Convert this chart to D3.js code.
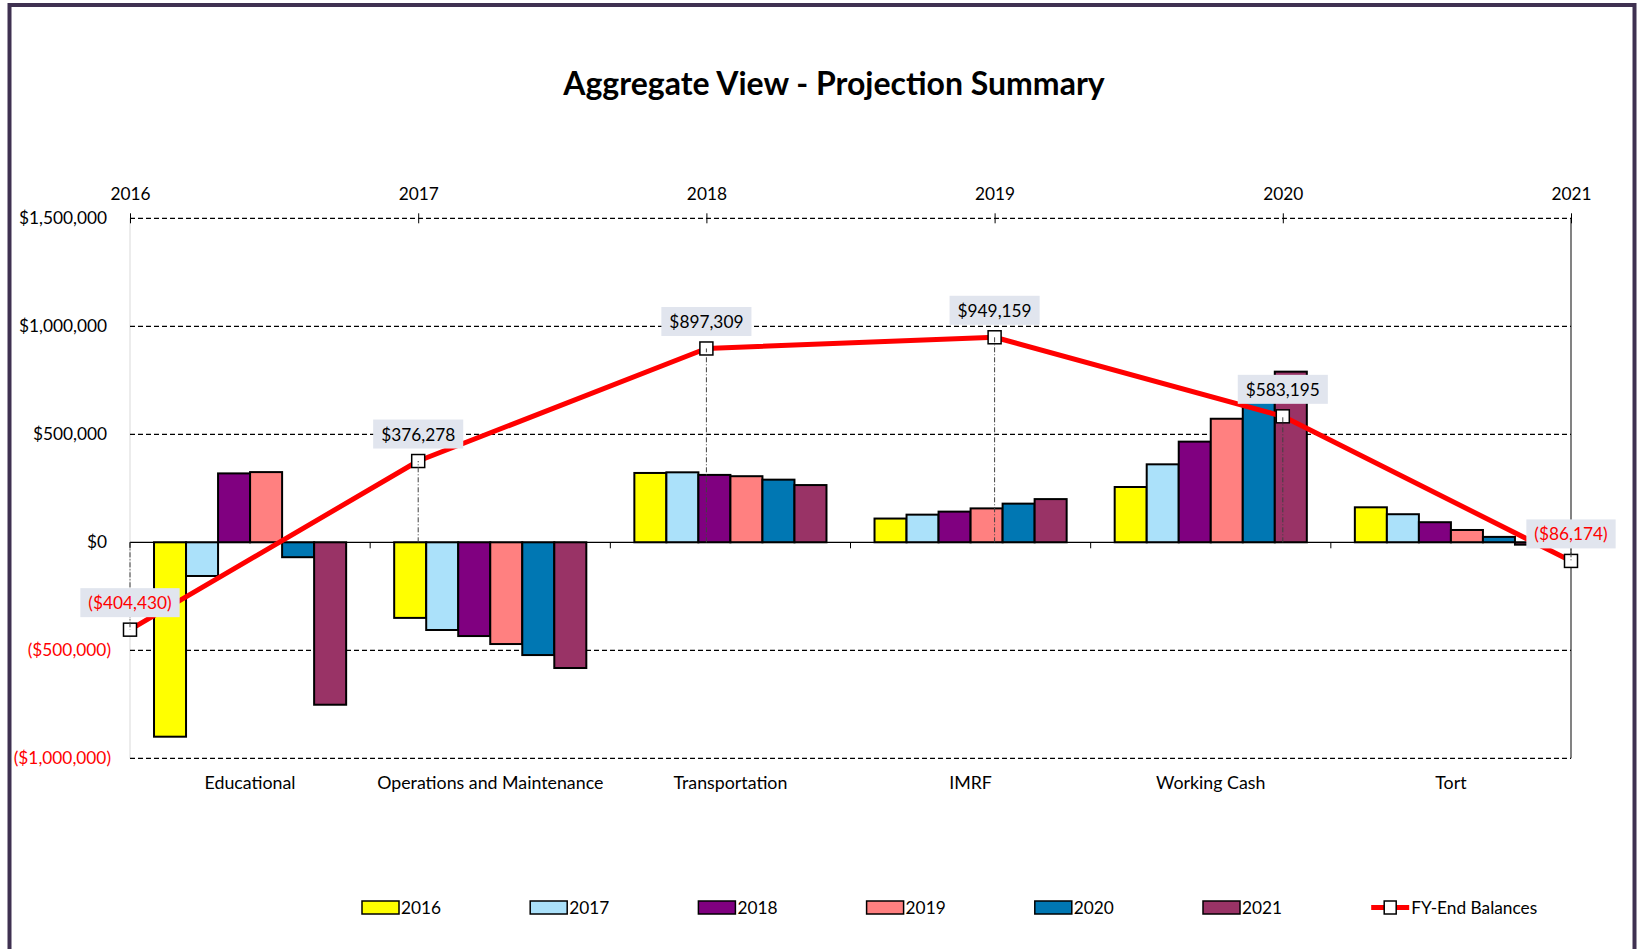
<!DOCTYPE html>
<html>
<head>
<meta charset="utf-8">
<script src="https://cdn.jsdelivr.net/npm/d3@7"></script>
<style>
  html, body { margin: 0; padding: 0; background: #fff; }
  svg { display: block; font-family: Lato, "Open Sans", sans-serif; }
</style>
</head>
<body>
<svg id="chart" width="1640" height="949"></svg>
<script>
// Data
const categories = ['Educational', 'Operations and Maintenance', 'Transportation', 'IMRF', 'Working Cash', 'Tort'];
const seriesNames = ['2016', '2017', '2018', '2019', '2020', '2021'];
const v2016 = [-900000, -350000, 321000, 110000, 256000, 162000];
const v2017 = [-156000, -406000, 324000, 128000, 361000, 130000];
const v2018 = [319000, -434000, 312000, 142000, 466000, 93000];
const v2019 = [325000, -471000, 306000, 157000, 572000, 57000];
const v2020 = [-69000, -522000, 290000, 179000, 680000, 25000];
const v2021 = [-752000, -582000, 265000, 200000, 790000, -11000];
const seriesValues = [v2016, v2017, v2018, v2019, v2020, v2021];
const seriesColors = ['#FFFF00', '#ABE1FA', '#800080', '#FF8080', '#0077B3', '#993366'];

const balanceYears = [2016, 2017, 2018, 2019, 2020, 2021];
const balances = [-404430, 376278, 897309, 949159, 583195, -86174];

const yTicks = [1500000, 1000000, 500000, 0, -500000, -1000000];

const svg = d3.select('#chart');
const plotL = 130, plotR = 1571, plotT = 218.3, plotB = 758.3;

// Outer frame
svg.append('rect')
  .attr('x', 9.5).attr('y', 5).attr('width', 1625).attr('height', 1000)
  .attr('fill', '#fff').attr('stroke', '#3F3151').attr('stroke-width', 4);

// Title
svg.append('text')
  .attr('x', 834).attr('y', 95)
  .attr('text-anchor', 'middle')
  .attr('font-size', 32).attr('font-weight', 700).attr('fill', '#000')
  .text('Aggregate View - Projection Summary');

const y = d3.scaleLinear().domain([-1000000, 1500000]).range([plotB, plotT]);
const x0 = d3.scaleBand().domain(categories).range([plotL, plotR]).paddingInner(0.2).paddingOuter(0.1);
const x1 = d3.scaleBand().domain(seriesNames).range([0, x0.bandwidth()]).padding(0);
const xYear = d3.scaleLinear().domain([2016, 2021]).range([plotL, plotR]);

// side lines
svg.append('line').attr('x1', plotL).attr('x2', plotL).attr('y1', plotT).attr('y2', plotB)
  .attr('stroke', '#D9D9D9').attr('stroke-width', 1);
svg.append('line').attr('x1', plotR).attr('x2', plotR).attr('y1', plotT).attr('y2', plotB)
  .attr('stroke', '#404040').attr('stroke-width', 1.3);

// Gridlines (dashed)
svg.append('g').selectAll('line')
  .data(yTicks.filter(d => d !== 0))
  .join('line')
  .attr('x1', plotL).attr('x2', plotR)
  .attr('y1', d => y(d)).attr('y2', d => y(d))
  .attr('stroke', '#000').attr('stroke-width', 1.3)
  .attr('stroke-dasharray', '5,3');

// Y axis labels
const fmt = d3.format('$,');
const yAxis = d3.axisLeft(y).tickValues(yTicks).tickSize(0).tickPadding(19)
  .tickFormat(d => d < 0 ? '(' + fmt(-d) + ')' : fmt(d));
const yg = svg.append('g').attr('transform', `translate(${plotL},0)`).call(yAxis);
yg.select('.domain').remove();
yg.selectAll('text')
  .attr('font-size', 17.3).attr('font-family', 'Lato, sans-serif')
  .attr('fill', d => d < 0 ? '#FF0000' : '#000')
  .attr('dx', d => d < 0 ? 0 : -4);

// Top year axis
const xAxisTop = d3.axisTop(xYear).tickValues(balanceYears).tickFormat(d3.format('d'))
  .tickSize(5).tickPadding(13);
const xg = svg.append('g').attr('transform', `translate(0,${plotT})`).call(xAxisTop);
xg.select('.domain').remove();
xg.selectAll('.tick line').attr('y1', 5).attr('y2', -5).attr('stroke', '#000');
xg.selectAll('text').attr('font-size', 17.3).attr('font-family', 'Lato, sans-serif').attr('fill', '#000');

// Bars
const groups = svg.append('g').selectAll('g')
  .data(categories)
  .join('g')
  .attr('transform', d => `translate(${x0(d)},0)`);

groups.selectAll('rect')
  .data((c, ci) => seriesNames.map((s, si) => ({ s, v: seriesValues[si][ci], color: seriesColors[si] })))
  .join('rect')
  .attr('x', d => x1(d.s))
  .attr('width', x1.bandwidth())
  .attr('y', d => y(Math.max(0, d.v)))
  .attr('height', d => Math.abs(y(d.v) - y(0)))
  .attr('fill', d => d.color)
  .attr('stroke', '#000').attr('stroke-width', 2);

// Category axis at zero
svg.append('line').attr('x1', plotL).attr('x2', plotR).attr('y1', y(0)).attr('y2', y(0))
  .attr('stroke', '#000').attr('stroke-width', 1.3);
const step = x0.step();
svg.append('g').selectAll('line')
  .data(d3.range(categories.length + 1))
  .join('line')
  .attr('x1', i => plotL + i * step).attr('x2', i => plotL + i * step)
  .attr('y1', y(0)).attr('y2', y(0) + 6)
  .attr('stroke', '#000').attr('stroke-width', 1);

svg.append('g').selectAll('text')
  .data(categories)
  .join('text')
  .attr('x', d => x0(d) + x0.bandwidth() / 2)
  .attr('y', 789)
  .attr('text-anchor', 'middle')
  .attr('font-size', 17.8).attr('fill', '#000')
  .text(d => d);

// FY-End balances line
const pts = balanceYears.map((yr, i) => ({ yr, v: balances[i] }));
const line = d3.line().x(d => xYear(d.yr)).y(d => y(d.v));
svg.append('path')
  .datum(pts)
  .attr('d', line)
  .attr('fill', 'none').attr('stroke', '#FF0000').attr('stroke-width', 5)
  .attr('stroke-linejoin', 'round');

svg.append('g').selectAll('rect')
  .data(pts)
  .join('rect')
  .attr('x', d => xYear(d.yr) - 6.5).attr('y', d => y(d.v) - 6.5)
  .attr('width', 13).attr('height', 13)
  .attr('fill', '#fff').attr('stroke', '#000').attr('stroke-width', 1.5);

// Drop lines
svg.append('g').selectAll('line')
  .data(pts)
  .join('line')
  .attr('x1', d => xYear(d.yr)).attr('x2', d => xYear(d.yr))
  .attr('y1', y(0)).attr('y2', d => y(d.v))
  .attr('stroke', '#404040').attr('stroke-width', 1)
  .attr('stroke-dasharray', '5,2,1,2');

// Data labels
const lab = svg.append('g').selectAll('g')
  .data(pts)
  .join('g')
  .attr('transform', d => `translate(${xYear(d.yr)},${y(d.v) - 27})`);
lab.append('text')
  .attr('text-anchor', 'middle').attr('dy', '0.38em')
  .attr('font-size', 17.3)
  .attr('fill', d => d.v < 0 ? '#FF0000' : '#000')
  .text(d => d.v < 0 ? '(' + fmt(-d.v) + ')' : fmt(d.v));
lab.each(function () {
  const g = d3.select(this);
  const bb = g.select('text').node().getBBox();
  g.insert('rect', 'text')
    .attr('x', bb.x - 8).attr('y', -14.5)
    .attr('width', bb.width + 16).attr('height', 29)
    .attr('fill', '#E1E5EE');
});

// Legend
const legX = 362, legStep = 168.2, legY = 907.5;
const leg = svg.append('g');
seriesNames.forEach((s, i) => {
  const gx = legX + i * legStep;
  leg.append('rect')
    .attr('x', gx).attr('y', legY - 6.5).attr('width', 37).attr('height', 13)
    .attr('fill', seriesColors[i]).attr('stroke', '#000').attr('stroke-width', 1.5);
  leg.append('text')
    .attr('x', gx + 39).attr('y', legY).attr('dy', '0.36em')
    .attr('font-size', 17.3).attr('fill', '#000').text(s);
});
const lx = legX + 6 * legStep;
leg.append('line')
  .attr('x1', lx).attr('x2', lx + 38).attr('y1', legY).attr('y2', legY)
  .attr('stroke', '#FF0000').attr('stroke-width', 5);
leg.append('rect')
  .attr('x', lx + 13).attr('y', legY - 6.5).attr('width', 12).attr('height', 13)
  .attr('fill', '#fff').attr('stroke', '#000').attr('stroke-width', 1.5);
leg.append('text')
  .attr('x', lx + 40).attr('y', legY).attr('dy', '0.36em')
  .attr('font-size', 17.3).attr('fill', '#000').text('FY-End Balances');
</script>
</body>
</html>
